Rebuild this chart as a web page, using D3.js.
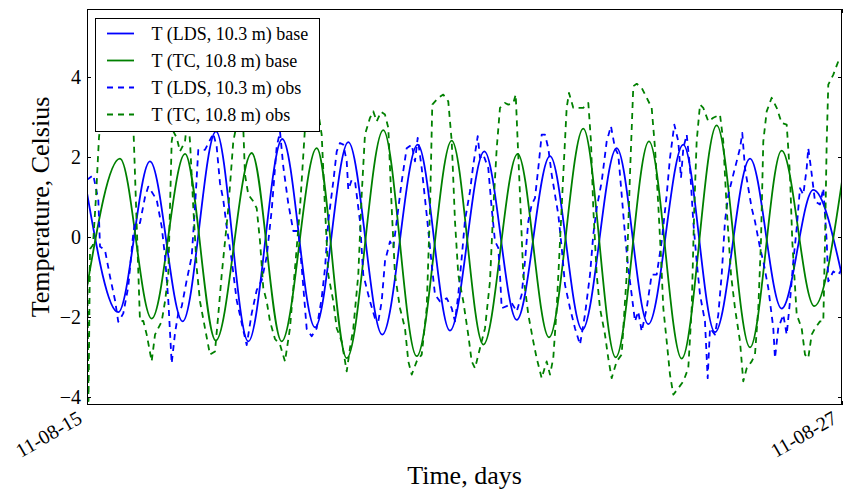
<!DOCTYPE html>
<html>
<head>
<meta charset="utf-8">
<script src="https://cdn.jsdelivr.net/npm/d3@7"></script>
<style>
  html, body { margin: 0; padding: 0; background: #fff; }
  svg text { font-family: "Liberation Serif", "DejaVu Serif", serif; fill: #000; }
</style>
</head>
<body>
<svg id="chart" width="843" height="491"></svg>
<script>
// Temperature anomalies, 15-27 Aug 2011. Times are days after 2011-08-15 00:00 UTC.
const seriesLabels = [
  "T (LDS, 10.3 m) base",
  "T (TC, 10.8 m) base",
  "T (LDS, 10.3 m) obs",
  "T (TC, 10.8 m) obs"
];
const seriesColors = ["#0000ff", "#008000", "#0000ff", "#008000"];
const xTickLabels = ["11-08-15", "11-08-27"];
const yTickValues = [-4, -2, 0, 2, 4];

// Modelled (base) series: turning points of the oscillation
const ldsBaseDays = [0.000, 0.497, 1.001, 1.521, 2.050, 2.564, 3.104, 3.624, 4.153, 4.693, 5.256, 5.769,
  6.315, 6.830, 7.359, 7.872, 8.419, 8.921, 9.477, 9.981, 10.538, 11.041, 11.544, 12.000];
const ldsBaseTemp = [1.10, -1.88, 1.89, -2.11, 2.64, -2.61, 2.45, -2.26, 2.37, -2.44, 2.31, -2.34,
  2.14, -2.07, 2.02, -2.32, 2.22, -2.18, 2.31, -2.38, 1.96, -1.79, 1.18, -0.97];

const tcBaseDays = [0.000, 0.524, 1.028, 1.558, 2.046, 2.618, 3.094, 3.651, 4.128, 4.709, 5.240, 5.797,
  6.299, 6.845, 7.343, 7.888, 8.403, 8.932, 9.452, 10.008, 10.538, 11.041, 11.560, 12.000];
const tcBaseTemp = [-1.25, 1.96, -2.04, 2.08, -2.59, 2.10, -2.61, 2.22, -3.03, 2.67, -2.98, 2.41,
  -2.69, 2.08, -2.51, 2.71, -3.01, 2.39, -3.04, 2.79, -2.76, 2.16, -1.73, 1.39];

// Observed series
const ldsObsDays = [0.000, 0.100, 0.180, 0.207, 0.286, 0.366, 0.445, 0.497, 0.577, 0.656, 0.736, 0.763,
  0.842, 0.922, 0.974, 1.028, 1.108, 1.187, 1.240, 1.292, 1.346, 1.399, 1.451, 1.505, 1.585, 1.664,
  1.717, 1.769, 1.875, 1.928, 2.007, 2.061, 2.114, 2.166, 2.220, 2.300, 2.379, 2.484, 2.538, 2.618,
  2.697, 2.777, 2.856, 2.936, 3.015, 3.068, 3.120, 3.199, 3.279, 3.358, 3.412, 3.492, 3.571, 3.651,
  3.730, 3.783, 3.835, 3.915, 3.969, 4.021, 4.074, 4.128, 4.153, 4.207, 4.260, 4.339, 4.391, 4.498,
  4.577, 4.630, 4.684, 4.736, 4.816, 4.868, 4.922, 5.002, 5.081, 5.161, 5.213, 5.256, 5.320, 5.399,
  5.479, 5.531, 5.610, 5.717, 5.797, 5.849, 5.901, 5.955, 6.008, 6.087, 6.140, 6.210, 6.246, 6.299,
  6.378, 6.432, 6.485, 6.537, 6.564, 6.591, 6.671, 6.750, 6.830, 6.909, 6.961, 7.014, 7.068, 7.120,
  7.173, 7.227, 7.279, 7.332, 7.386, 7.438, 7.491, 7.545, 7.597, 7.677, 7.756, 7.836, 7.915, 7.995,
  8.047, 8.101, 8.181, 8.260, 8.328, 8.392, 8.444, 8.498, 8.551, 8.603, 8.657, 8.710, 8.762, 8.816,
  8.896, 8.975, 9.055, 9.134, 9.214, 9.266, 9.335, 9.398, 9.441, 9.478, 9.532, 9.584, 9.636, 9.690,
  9.743, 9.822, 9.865, 9.902, 9.981, 10.034, 10.088, 10.140, 10.193, 10.272, 10.326, 10.379, 10.415,
  10.458, 10.511, 10.565, 10.617, 10.697, 10.749, 10.829, 10.908, 10.935, 10.987, 11.067, 11.121,
  11.173, 11.226, 11.280, 11.332, 11.385, 11.439, 11.464, 11.507, 11.571, 11.650, 11.703, 11.757,
  11.782, 11.862, 11.941, 12.000];
const ldsObsTemp = [1.43, 1.55, 0.92, -0.24, -0.33, -0.99, -1.58, -2.12, -1.91, -1.24, 0.10, 0.35,
  0.35, 1.00, 1.26, 1.13, 0.93, 0.26, -0.49, -1.58, -3.16, -2.40, -1.90, -1.74, -1.08, -0.49,
  0.76, 2.18, 2.18, 2.34, 2.59, 2.26, 1.34, 0.93, 0.26, -0.58, -1.58, -2.33, -2.70, -1.91,
  -1.33, -1.08, -0.49, 0.68, 2.26, 2.63, 1.76, 0.84, 0.15, 0.15, -0.74, -2.30, -2.48, -2.28,
  -1.53, -0.78, 0.40, 1.39, 2.14, 2.35, 2.31, 1.89, 1.18, 1.43, 1.39, 0.39, -0.94, -1.61,
  -2.03, -2.11, -1.61, -0.61, -0.11, -0.27, 0.39, 1.39, 2.22, 2.31, 1.89, 2.48, 1.72, 0.56,
  -0.69, -1.44, -1.61, -1.53, -1.78, -2.11, -1.44, -0.53, 0.42, 1.14, 1.81, 2.52, 1.98, 2.06,
  1.72, 0.72, -0.11, -0.27, -0.94, -1.78, -1.73, -1.65, -1.86, -1.44, -0.61, 0.39, 0.81, 0.97,
  1.72, 2.56, 2.56, 2.22, 1.56, 1.06, 0.56, -0.27, -1.19, -1.78, -2.28, -2.69, -1.94, -0.94,
  0.06, 0.72, 1.39, 2.39, 2.77, 2.22, 2.06, 1.06, 0.06, -0.78, -1.44, -2.11, -1.86, -2.36,
  -1.78, -0.94, -0.94, -0.11, 1.06, 1.98, 2.81, 2.39, 1.48, 2.22, 2.56, 1.72, 0.39, -0.61,
  -1.44, -2.11, -3.53, -2.28, -2.44, -1.94, -0.94, 0.39, 1.06, 1.56, 1.89, 2.22, 2.60,
  1.72, 1.22, 0.72, 0.39, -0.27, -0.61, -1.28, -2.28, -3.03, -2.28, -1.94, -2.44,
  -1.61, -0.61, 0.22, 1.22, 1.06, 1.72, 2.22, 1.72, 0.89, 0.81, 1.22, -0.11,
  -1.11, -0.86, -0.94, -0.80];

const tcObsDays = [0.000, 0.024, 0.048, 0.095, 0.143, 0.191, 0.238, 0.366, 0.524, 0.652, 0.699, 0.736,
  0.842, 0.895, 0.949, 1.028, 1.081, 1.133, 1.187, 1.240, 1.292, 1.319, 1.346, 1.372, 1.426, 1.478,
  1.558, 1.585, 1.605, 1.637, 1.690, 1.744, 1.796, 1.875, 1.955, 2.034, 2.087, 2.141, 2.246, 2.325,
  2.379, 2.432, 2.484, 2.511, 2.564, 2.643, 2.697, 2.750, 2.802, 2.856, 2.909, 2.988, 3.068, 3.147,
  3.226, 3.306, 3.385, 3.465, 3.513, 3.624, 3.687, 3.730, 3.783, 3.835, 3.915, 3.969, 4.048, 4.128,
  4.180, 4.233, 4.312, 4.366, 4.418, 4.498, 4.550, 4.604, 4.673, 4.736, 4.789, 4.843, 4.895, 4.975,
  5.054, 5.107, 5.161, 5.240, 5.320, 5.399, 5.452, 5.488, 5.584, 5.663, 5.742, 5.797, 5.849, 5.901,
  5.981, 6.060, 6.114, 6.167, 6.246, 6.326, 6.405, 6.458, 6.512, 6.564, 6.644, 6.696, 6.776, 6.814,
  6.845, 6.882, 6.934, 7.014, 7.093, 7.147, 7.227, 7.306, 7.359, 7.411, 7.465, 7.518, 7.570, 7.624,
  7.661, 7.729, 7.809, 7.888, 7.968, 8.010, 8.047, 8.101, 8.153, 8.233, 8.285, 8.339, 8.419, 8.498,
  8.578, 8.630, 8.683, 8.737, 8.816, 8.896, 8.975, 9.028, 9.080, 9.123, 9.160, 9.214, 9.266, 9.319,
  9.398, 9.478, 9.557, 9.611, 9.652, 9.690, 9.743, 9.795, 9.875, 9.954, 10.061, 10.113, 10.167,
  10.236, 10.299, 10.379, 10.431, 10.485, 10.565, 10.617, 10.670, 10.712, 10.749, 10.803, 10.882,
  10.962, 11.041, 11.121, 11.173, 11.210, 11.280, 11.359, 11.412, 11.464, 11.518, 11.571, 11.650,
  11.703, 11.730, 11.757, 11.782, 11.862, 11.941, 12.000];
const tcObsTemp = [-0.20, -4.10, -0.30, -0.20, 1.00, 2.50, 3.10, 3.20, 3.00, 3.20, 3.00, 2.81,
  -2.10, -2.10, -2.44, -3.11, -2.44, -2.28, -2.11, -1.61, -0.94, 0.72, 2.39, 2.64, 2.48, 2.14,
  2.39, 2.81, 3.00, 2.39, 0.72, -0.78, -1.61, -2.28, -2.94, -2.86, -1.94, -0.94, 0.72, 2.39,
  2.81, 3.10, 2.73, 1.56, 1.06, 0.89, 0.72, -0.11, -1.28, -1.61, -2.11, -2.55, -2.69, -3.11,
  -2.28, -0.78, 0.72, 2.73, 3.10, 3.20, 3.00, 2.56, 0.72, -0.94, -1.61, -2.28, -2.61, -3.36,
  -2.78, -2.28, -0.94, 1.06, 2.56, 2.98, 3.14, 2.89, 3.13, 3.06, 2.73, 0.72, -0.94, -1.78,
  -2.28, -3.11, -3.44, -3.11, -2.94, -1.78, 0.72, 3.31, 3.48, 3.56, 3.39, 2.39, 0.39, -0.94,
  -1.61, -2.45, -3.11, -3.28, -2.78, -2.28, -1.11, 0.72, 2.22, 3.23, 3.35, 3.31, 3.35, 3.56,
  2.39, 1.06, -0.94, -1.94, -2.61, -3.03, -3.53, -3.11, -3.44, -3.03, -1.78, -0.11, 1.56, 3.23,
  3.60, 3.23, 3.23, 3.23, 3.35, 2.39, 0.72, -0.94, -1.78, -2.44, -3.03, -3.53, -3.11, -2.94,
  -0.94, 1.56, 3.77, 3.83, 3.73, 3.48, 3.23, 2.22, 0.80, -0.50, -1.78, -2.61, -3.44, -3.94,
  -3.78, -3.61, -3.28, -1.78, 0.72, 2.39, 3.31, 3.23, 2.89, 2.98, 3.06, 2.39, 0.72,
  -0.94, -1.78, -2.61, -3.61, -3.28, -3.11, -2.94, -1.78, -0.11, 2.39, 3.14, 3.48,
  3.23, 2.85, 2.81, 1.56, -0.11, -1.94, -2.28, -2.94, -3.03, -2.44, -2.28, -2.11,
  -2.11, -0.11, 2.39, 3.81, 4.06, 4.39, 4.43];

const startDay = Date.UTC(2011, 7, 15);
const endDay = Date.UTC(2011, 7, 27);
const toDate = d => new Date(startDay + d * 864e5);

const series = [
  { days: ldsBaseDays, temp: ldsBaseTemp, dashed: false, smooth: true },
  { days: tcBaseDays, temp: tcBaseTemp, dashed: false, smooth: true },
  { days: ldsObsDays, temp: ldsObsTemp, dashed: true, smooth: false },
  { days: tcObsDays, temp: tcObsTemp, dashed: true, smooth: false }
].map((s, i) => ({
  ...s,
  label: seriesLabels[i],
  color: seriesColors[i],
  points: s.days.map((d, k) => ({ date: toDate(d), value: s.temp[k] }))
}));

const W = 843, H = 491;
const margin = { top: 9, right: 1, bottom: 86, left: 87 };
const plotW = W - margin.left - margin.right;
const plotH = H - margin.top - margin.bottom;

const svg = d3.select("#chart");
const g = svg.append("g").attr("transform", `translate(${margin.left},${margin.top})`);

const x = d3.scaleUtc().domain([new Date(startDay), new Date(endDay)]).range([0, plotW]);
const y = d3.scaleLinear().domain([-4.2, 5.7]).range([plotH, 0]);

g.append("clipPath").attr("id", "plot-clip")
  .append("rect").attr("width", plotW).attr("height", plotH);

// Data lines
const plot = g.append("g").attr("clip-path", "url(#plot-clip)");
series.forEach(s => {
  const line = d3.line()
    .x(p => x(p.date))
    .y(p => y(p.value))
    .curve(s.smooth ? d3.curveMonotoneX : d3.curveLinear);
  plot.append("path")
    .datum(s.points)
    .attr("fill", "none")
    .attr("stroke", s.color)
    .attr("stroke-width", 1.8)
    .attr("stroke-linejoin", "round")
    .attr("stroke-dasharray", s.dashed ? "6,5" : null)
    .attr("d", line);
});

// Axes: inward ticks on all sides, labels on left and bottom only
const yLeft = d3.axisLeft(y).tickValues(yTickValues).tickSizeInner(-4).tickSizeOuter(0).tickPadding(6);
const yRight = d3.axisRight(y).tickValues(yTickValues).tickSizeInner(-4).tickSizeOuter(0).tickFormat("");
const xTickDates = [new Date(startDay), new Date(endDay)];
const xBottom = d3.axisBottom(x).tickValues(xTickDates).tickSizeInner(-4).tickSizeOuter(0)
  .tickFormat((d, i) => xTickLabels[i]);
const xTop = d3.axisTop(x).tickValues(xTickDates).tickSizeInner(-4).tickSizeOuter(0).tickFormat("");

const gyl = g.append("g").call(yLeft);
g.append("g").attr("transform", `translate(${plotW},0)`).call(yRight);
const gxb = g.append("g").attr("transform", `translate(0,${plotH})`).call(xBottom);
g.append("g").call(xTop);

g.selectAll(".domain").remove();
g.selectAll(".tick line").attr("stroke", "#000").attr("stroke-width", 1);
gyl.selectAll("text").attr("font-size", 20).attr("font-family", null);
gxb.selectAll("text")
  .attr("font-size", 20).attr("font-family", null)
  .attr("text-anchor", "end")
  .attr("dy", null).attr("y", null)
  .attr("transform", "translate(-4,17) rotate(-30)");

// Frame
g.append("rect")
  .attr("x", 0.5).attr("y", 0.5)
  .attr("width", plotW - 1).attr("height", plotH - 1)
  .attr("fill", "none").attr("stroke", "#000").attr("stroke-width", 1);

// Legend
const legend = g.append("g").attr("transform", "translate(8.5,9.5)");
legend.append("rect")
  .attr("width", 224).attr("height", 113)
  .attr("fill", "#fff").attr("stroke", "#000").attr("stroke-width", 1);
series.forEach((s, i) => {
  const cy = 15 + i * 27;
  legend.append("line")
    .attr("x1", 11.5).attr("x2", 38.5).attr("y1", cy).attr("y2", cy)
    .attr("stroke", s.color).attr("stroke-width", 1.8)
    .attr("stroke-dasharray", s.dashed ? "6,5" : null);
  legend.append("text")
    .attr("x", 56).attr("y", cy + 6.5)
    .attr("font-size", 18)
    .text(s.label);
});

// Axis titles
svg.append("text")
  .attr("transform", `translate(49,${margin.top + plotH / 2}) rotate(-90)`)
  .attr("text-anchor", "middle")
  .attr("font-size", 26)
  .text("Temperature, Celsius");
svg.append("text")
  .attr("x", margin.left + plotW / 2).attr("y", 484)
  .attr("text-anchor", "middle")
  .attr("font-size", 26)
  .text("Time, days");
</script>
</body>
</html>
